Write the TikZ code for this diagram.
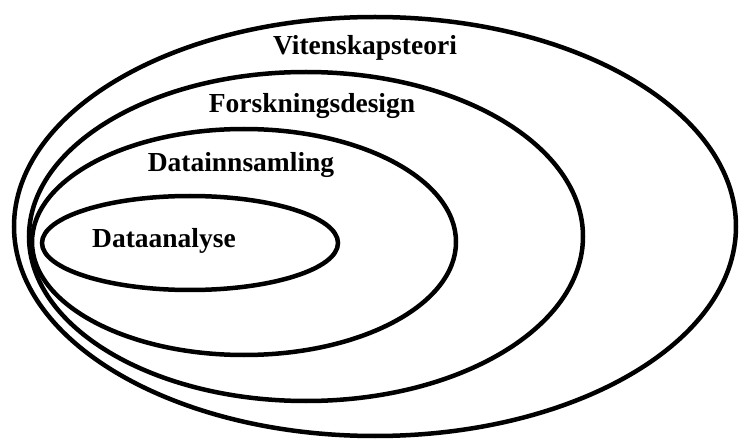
\documentclass[tikz,border=0pt]{standalone}
\usepackage{fontspec}
\setmainfont{Liberation Serif}
\begin{document}
\begin{tikzpicture}[x=1pt,y=-1pt,
  ring/.style={line width=4.5pt,draw=black},
  lbl/.style={font=\fontsize{27.5}{30}\selectfont\bfseries,anchor=base,inner sep=0pt}]
\useasboundingbox (0,0) rectangle (740,441);
% nested ellipses, all touching near the left edge
\draw[ring] (375,226.5) ellipse [x radius=361pt, y radius=209.5pt];
\draw[ring] (306,236.5) ellipse [x radius=277pt, y radius=164.5pt];
\draw[ring] (244,242) ellipse [x radius=212pt, y radius=113pt];
\draw[ring] (190,243) ellipse [x radius=148pt, y radius=47pt];
% labels
\node[lbl] (vt) at (365,55) {Vitenskapsteori};
\node[lbl] (fd) at (312,113) {Forskningsdesign};
\node[lbl] (di) at (241,172) {Datainnsamling};
\node[lbl] (da) at (164,248) {Dataanalyse};
\end{tikzpicture}
\end{document}
